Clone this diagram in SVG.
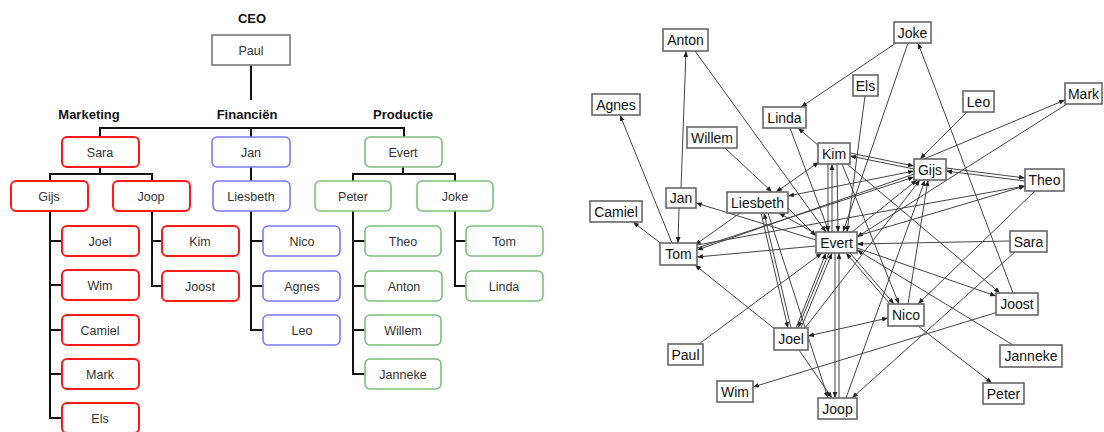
<svg xmlns="http://www.w3.org/2000/svg" width="1104" height="432" viewBox="0 0 1104 432">
<defs>
<style>
.lbl{font-family:"Liberation Sans",Arial,sans-serif;font-size:13px;font-weight:bold;fill:#111;text-anchor:middle}
.ot{font-family:"Liberation Sans",Arial,sans-serif;font-size:12.5px;fill:#333;text-anchor:middle}
.nt{font-family:"Liberation Sans",Arial,sans-serif;font-size:14px;fill:#111;text-anchor:middle}
.red{fill:#fff;stroke:#ff1a1a;stroke-width:2}
.blue{fill:#fff;stroke:#7a7aff;stroke-width:1.6}
.green{fill:#fff;stroke:#7cbf7c;stroke-width:1.6}
.gray{fill:#fff;stroke:#777;stroke-width:1.6}
.oc{stroke:#111;stroke-width:2;fill:none}
.nb{fill:#fff;stroke:#666;stroke-width:1.6}
.e{stroke:#444;stroke-width:1;fill:none;marker-end:url(#a)}
.d{stroke:#444;stroke-width:1;fill:none;marker-end:url(#a);marker-start:url(#a)}
</style>
<marker id="a" viewBox="0 0 6 6" refX="6" refY="3" markerWidth="6" markerHeight="6" markerUnits="userSpaceOnUse" orient="auto-start-reverse"><path d="M0,0.6 L6,3 L0,5.4z" fill="#222"/></marker>
</defs>
<rect width="1104" height="432" fill="#fff"/>

<!-- ORG CHART -->
<g id="org-connectors">
<path class="oc" d="M251,65 V100"/>
<path class="oc" d="M100,137 V128 H404 V137 M251,128 V137"/>
<path class="oc" d="M100,167 V174 M50,181 V174 H152 V181"/>
<path class="oc" d="M251,167 V181"/>
<path class="oc" d="M403,167 V174 M353,181 V174 H455 V181"/>
<path class="oc" d="M50,211 V418 H62 M50,241 H62 M50,285 H62 M50,330 H62 M50,374 H62"/>
<path class="oc" d="M152,211 V286 H162 M152,241 H162"/>
<path class="oc" d="M251,211 V330 H263 M251,241 H263 M251,286 H263"/>
<path class="oc" d="M353,211 V374 H365 M353,241 H365 M353,286 H365 M353,330 H365"/>
<path class="oc" d="M455,211 V286 H466 M455,241 H466"/>
</g>
<text class="lbl" x="252" y="23">CEO</text>
<text class="lbl" x="89" y="119">Marketing</text>
<text class="lbl" x="247" y="119">Financiën</text>
<text class="lbl" x="403" y="119">Productie</text>
<g id="o-paul"><rect class="gray" x="212" y="35" width="78" height="30"/><text class="ot" x="251" y="55">Paul</text></g>
<g id="o-sara"><rect class="red" x="62" y="137" width="77" height="30" rx="5"/><text class="ot" x="100" y="157">Sara</text></g>
<g id="o-jan"><rect class="blue" x="212" y="137" width="78" height="30" rx="5"/><text class="ot" x="251" y="157">Jan</text></g>
<g id="o-evert"><rect class="green" x="365" y="137" width="77" height="30" rx="5"/><text class="ot" x="403" y="157">Evert</text></g>
<g id="o-gijs"><rect class="red" x="11" y="181" width="77" height="30" rx="5"/><text class="ot" x="49" y="201">Gijs</text></g>
<g id="o-joop"><rect class="red" x="113" y="181" width="77" height="30" rx="5"/><text class="ot" x="151" y="201">Joop</text></g>
<g id="o-liesbeth"><rect class="blue" x="213" y="181" width="77" height="30" rx="5"/><text class="ot" x="251" y="201">Liesbeth</text></g>
<g id="o-peter"><rect class="green" x="315" y="181" width="76" height="30" rx="5"/><text class="ot" x="353" y="201">Peter</text></g>
<g id="o-joke"><rect class="green" x="417" y="181" width="76" height="30" rx="5"/><text class="ot" x="455" y="201">Joke</text></g>
<g id="o-joel"><rect class="red" x="62" y="226" width="77" height="30" rx="5"/><text class="ot" x="100" y="246">Joel</text></g>
<g id="o-wim"><rect class="red" x="62" y="270" width="77" height="30" rx="5"/><text class="ot" x="100" y="290">Wim</text></g>
<g id="o-camiel"><rect class="red" x="62" y="315" width="77" height="30" rx="5"/><text class="ot" x="100" y="335">Camiel</text></g>
<g id="o-mark"><rect class="red" x="62" y="359" width="77" height="30" rx="5"/><text class="ot" x="100" y="379">Mark</text></g>
<g id="o-els"><rect class="red" x="62" y="403" width="77" height="30" rx="5"/><text class="ot" x="100" y="423">Els</text></g>
<g id="o-kim"><rect class="red" x="162" y="226" width="77" height="30" rx="5"/><text class="ot" x="200" y="246">Kim</text></g>
<g id="o-joost"><rect class="red" x="162" y="271" width="77" height="30" rx="5"/><text class="ot" x="200" y="291">Joost</text></g>
<g id="o-nico"><rect class="blue" x="263" y="226" width="77" height="30" rx="5"/><text class="ot" x="302" y="246">Nico</text></g>
<g id="o-agnes"><rect class="blue" x="263" y="271" width="77" height="30" rx="5"/><text class="ot" x="302" y="291">Agnes</text></g>
<g id="o-leo"><rect class="blue" x="263" y="315" width="77" height="30" rx="5"/><text class="ot" x="302" y="335">Leo</text></g>
<g id="o-theo"><rect class="green" x="365" y="226" width="76" height="30" rx="5"/><text class="ot" x="403" y="246">Theo</text></g>
<g id="o-anton"><rect class="green" x="365" y="271" width="77" height="30" rx="5"/><text class="ot" x="404" y="291">Anton</text></g>
<g id="o-willem"><rect class="green" x="365" y="315" width="76" height="30" rx="5"/><text class="ot" x="403" y="335">Willem</text></g>
<g id="o-janneke"><rect class="green" x="365" y="359" width="76" height="30" rx="5"/><text class="ot" x="403" y="379">Janneke</text></g>
<g id="o-tom"><rect class="green" x="466" y="226" width="77" height="30" rx="5"/><text class="ot" x="504" y="246">Tom</text></g>
<g id="o-linda"><rect class="green" x="466" y="271" width="77" height="30" rx="5"/><text class="ot" x="504" y="291">Linda</text></g>

<!-- NETWORK -->
<g id="connectors">
<line class="e" x1="681" y1="188" x2="686" y2="51"/>
<line class="e" x1="695" y1="51" x2="826" y2="232"/>
<line class="e" x1="672" y1="243" x2="620" y2="115"/>
<line class="e" x1="896" y1="43" x2="801" y2="107"/>
<line class="e" x1="725" y1="148" x2="772" y2="192"/>
<line class="d" x1="819" y1="162" x2="776" y2="192"/>
<line class="e" x1="819" y1="146" x2="798" y2="128"/>
<line class="e" x1="790" y1="128" x2="829" y2="232"/>
<line class="e" x1="679" y1="208" x2="678" y2="243"/>
<line class="e" x1="816" y1="240" x2="696" y2="203"/>
<line class="e" x1="663" y1="245" x2="633" y2="222"/>
<line class="e" x1="699" y1="344" x2="822" y2="253"/>
<line class="e" x1="776" y1="330" x2="695" y2="265"/>
<line class="e" x1="998" y1="312" x2="753" y2="387"/>
<line class="e" x1="799" y1="350" x2="832" y2="398"/>
<line class="d" x1="808" y1="336" x2="888" y2="318"/>
<line class="e" x1="835" y1="253" x2="835" y2="398"/>
<line class="e" x1="839" y1="398" x2="839" y2="253"/>
<line class="e" x1="1010" y1="241" x2="857" y2="244"/>
<line class="e" x1="1015" y1="252" x2="852" y2="398"/>
<line class="e" x1="918" y1="326" x2="992" y2="383"/>
<line class="e" x1="1013" y1="345" x2="857" y2="250"/>
<line class="e" x1="857" y1="248" x2="996" y2="296"/>
<line class="e" x1="1013" y1="293" x2="918" y2="43"/>
<line class="e" x1="1035" y1="191" x2="918" y2="304"/>
<line class="e" x1="924" y1="159" x2="1065" y2="100"/>
<line class="e" x1="967" y1="112" x2="920" y2="159"/>
<line class="e" x1="1067" y1="104" x2="857" y2="237"/>
<line class="e" x1="865" y1="96" x2="847" y2="232"/>
<line class="e" x1="908" y1="43" x2="843" y2="232"/>
<line class="e" x1="850" y1="153" x2="914" y2="166"/>
<line class="e" x1="914" y1="169" x2="850" y2="156"/>
<line class="e" x1="946" y1="168" x2="1025" y2="178"/>
<line class="e" x1="1025" y1="181" x2="946" y2="171"/>
<line class="e" x1="832" y1="232" x2="832" y2="164"/>
<line class="e" x1="828" y1="164" x2="828" y2="232"/>
<line class="e" x1="837" y1="164" x2="838" y2="232"/>
<line class="e" x1="842" y1="164" x2="899" y2="304"/>
<line class="e" x1="847" y1="164" x2="1000" y2="293"/>
<line class="e" x1="740" y1="213" x2="695" y2="245"/>
<line class="e" x1="914" y1="174" x2="697" y2="250"/>
<line class="e" x1="816" y1="246" x2="697" y2="257"/>
<line class="e" x1="761" y1="213" x2="788" y2="328"/>
<line class="e" x1="791" y1="328" x2="764" y2="213"/>
<line class="e" x1="768" y1="213" x2="828" y2="398"/>
<line class="e" x1="816" y1="234" x2="779" y2="213"/>
<line class="d" x1="914" y1="171" x2="788" y2="196"/>
<line class="e" x1="796" y1="328" x2="826" y2="253"/>
<line class="e" x1="801" y1="328" x2="832" y2="253"/>
<line class="e" x1="829" y1="253" x2="798" y2="328"/>
<line class="e" x1="805" y1="328" x2="920" y2="180"/>
<line class="e" x1="852" y1="232" x2="917" y2="180"/>
<line class="e" x1="908" y1="304" x2="928" y2="180"/>
<line class="e" x1="850" y1="253" x2="894" y2="304"/>
<line class="e" x1="890" y1="304" x2="846" y2="253"/>
<line class="e" x1="857" y1="236" x2="1025" y2="186"/>
<line class="e" x1="846" y1="398" x2="925" y2="180"/>
<line class="e" x1="697" y1="248" x2="914" y2="177"/>
<line class="e" x1="788" y1="208" x2="816" y2="236"/>
<line class="e" x1="697" y1="245" x2="1025" y2="186"/>
</g>

<g id="n-anton"><rect class="nb" x="663" y="29" width="45" height="22"/><text class="nt" x="685.5" y="45">Anton</text></g>
<g id="n-joke"><rect class="nb" x="894" y="22" width="37" height="21"/><text class="nt" x="912.5" y="38">Joke</text></g>
<g id="n-els"><rect class="nb" x="853" y="75" width="25" height="21"/><text class="nt" x="865.5" y="91">Els</text></g>
<g id="n-leo"><rect class="nb" x="963" y="91" width="31" height="21"/><text class="nt" x="978.5" y="107">Leo</text></g>
<g id="n-mark"><rect class="nb" x="1065" y="83" width="37" height="21"/><text class="nt" x="1083.5" y="99">Mark</text></g>
<g id="n-agnes"><rect class="nb" x="592" y="94" width="48" height="21"/><text class="nt" x="616" y="110">Agnes</text></g>
<g id="n-linda"><rect class="nb" x="763" y="107" width="43" height="21"/><text class="nt" x="784.5" y="123">Linda</text></g>
<g id="n-willem"><rect class="nb" x="687" y="127" width="50" height="21"/><text class="nt" x="712" y="143">Willem</text></g>
<g id="n-kim"><rect class="nb" x="818" y="143" width="32" height="21"/><text class="nt" x="834" y="159">Kim</text></g>
<g id="n-gijs"><rect class="nb" x="914" y="159" width="32" height="21"/><text class="nt" x="930" y="175">Gijs</text></g>
<g id="n-theo"><rect class="nb" x="1025" y="169" width="39" height="22"/><text class="nt" x="1044.5" y="185">Theo</text></g>
<g id="n-jan"><rect class="nb" x="666" y="188" width="30" height="20"/><text class="nt" x="681" y="203">Jan</text></g>
<g id="n-liesbeth"><rect class="nb" x="727" y="192" width="61" height="21"/><text class="nt" x="757.5" y="208">Liesbeth</text></g>
<g id="n-camiel"><rect class="nb" x="590" y="201" width="52" height="21"/><text class="nt" x="616" y="217">Camiel</text></g>
<g id="n-evert"><rect class="nb" x="816" y="232" width="41" height="21"/><text class="nt" x="836.5" y="248">Evert</text></g>
<g id="n-sara"><rect class="nb" x="1010" y="231" width="37" height="21"/><text class="nt" x="1028.5" y="247">Sara</text></g>
<g id="n-tom"><rect class="nb" x="660" y="243" width="37" height="22"/><text class="nt" x="678.5" y="259">Tom</text></g>
<g id="n-joost"><rect class="nb" x="996" y="293" width="42" height="22"/><text class="nt" x="1017" y="309">Joost</text></g>
<g id="n-nico"><rect class="nb" x="888" y="304" width="36" height="22"/><text class="nt" x="906" y="320">Nico</text></g>
<g id="n-joel"><rect class="nb" x="774" y="328" width="34" height="22"/><text class="nt" x="791" y="344">Joel</text></g>
<g id="n-paul"><rect class="nb" x="668" y="344" width="35" height="21"/><text class="nt" x="685.5" y="360">Paul</text></g>
<g id="n-janneke"><rect class="nb" x="1000" y="345" width="62" height="22"/><text class="nt" x="1031" y="361">Janneke</text></g>
<g id="n-wim"><rect class="nb" x="717" y="381" width="36" height="21"/><text class="nt" x="735" y="397">Wim</text></g>
<g id="n-peter"><rect class="nb" x="983" y="383" width="41" height="21"/><text class="nt" x="1003.5" y="399">Peter</text></g>
<g id="n-joop"><rect class="nb" x="818" y="398" width="39" height="21"/><text class="nt" x="837.5" y="414">Joop</text></g>
</svg>
